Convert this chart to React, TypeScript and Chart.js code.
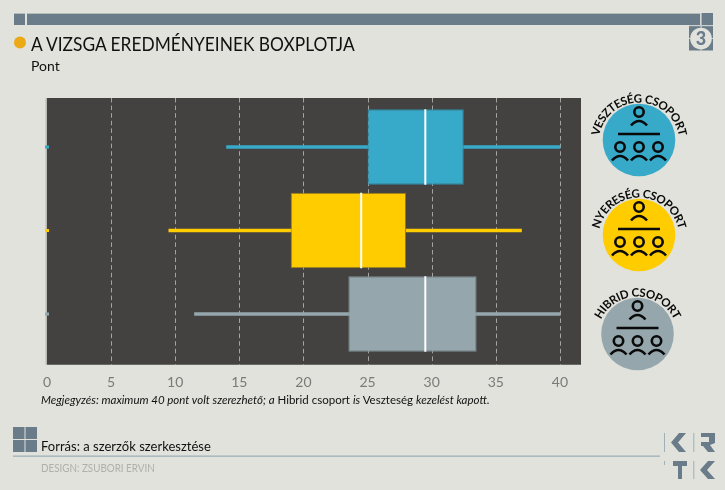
import React, { useEffect, useRef } from "react";
import { Chart, registerables } from "chart.js";

Chart.register(...registerables);

const groups = ["VESZTESÉG CSOPORT", "NYERESÉG CSOPORT", "HIBRID CSOPORT"];
const whiskerLow = [14, 9.5, 11.5];
const whiskerHigh = [40, 37, 40];
const boxLow = [25, 19, 23.5];
const boxHigh = [32.5, 28, 33.5];
const medians = [29.5, 24.5, 29.5];
const outliers = [0, 0, 0];
const colors = ["#37a9c9", "#ffcc00", "#95a7ad"];
const edgeColors = ["#2f8ba6", "#8f7a1e", "#7f8f94"];

const FONT = "Lato, 'Open Sans', sans-serif";
const SLATE = "#6a7b89";

const panelPlugin = {
  id: "panel",
  beforeDatasetsDraw: (chart: any) => {
    const { ctx, chartArea, scales } = chart;
    const top = chartArea.top - 7.25;
    const bottom = chartArea.bottom + 9;

    ctx.save();
    ctx.fillStyle = "#434240";
    ctx.fillRect(chartArea.left, top, chartArea.right - chartArea.left, bottom - top);
    ctx.fillStyle = "#b9b9b4";
    ctx.fillRect(chartArea.left - 1.5, top, 1.5, bottom - top);

    ctx.strokeStyle = "#a3a3a0";
    ctx.lineWidth = 1;
    ctx.setLineDash([4.5, 3.1]);
    scales.x.ticks.forEach((tick: any) => {
      if (tick.value === 0) return;
      const x = Math.round(scales.x.getPixelForValue(tick.value)) + 0.5;
      ctx.beginPath();
      ctx.moveTo(x, top);
      ctx.lineTo(x, bottom);
      ctx.stroke();
    });
    ctx.restore();
  },
};

const markPlugin = {
  id: "marks",
  afterDatasetsDraw: (chart: any) => {
    const { ctx, scales } = chart;
    ctx.save();
    groups.forEach((group, i) => {
      const y = scales.y.getPixelForValue(i);
      const half = 37.75;

      ctx.strokeStyle = "#ffffff";
      ctx.lineWidth = 2;
      const mx = scales.x.getPixelForValue(medians[i]);
      ctx.beginPath();
      ctx.moveTo(mx, y - half);
      ctx.lineTo(mx, y + half);
      ctx.stroke();

      ctx.fillStyle = colors[i];
      ctx.fillRect(scales.x.getPixelForValue(outliers[i]) - 2, y - 1.5, 4, 3);
    });
    ctx.restore();
  },
};

const Person = ({ x, y }: { x: number; y: number }) => (
  <g fill="none" stroke="#0a0a0a" strokeWidth={2.6}>
    <circle cx={x} cy={y} r={4.7} />
    <path d={`M${x - 8} ${y + 13.5} Q${x} ${y + 4.5} ${x + 8} ${y + 13.5}`} />
  </g>
);

const Badge = ({ cx, cy, color, label, id }: { cx: number; cy: number; color: string; label: string; id: string }) => (
  <g>
    <circle cx={cx} cy={cy} r={36.3} fill={color} />
    <path id={id} d={`M${cx - 40.5} ${cy + 3} A40.5 40.5 0 0 1 ${cx + 40.5} ${cy + 3}`} fill="none" />
    <text fontFamily={FONT} fontSize={11.5} fontWeight={700} fill="#0a0a0a" textAnchor="middle" letterSpacing={-0.35}>
      <textPath href={`#${id}`} startOffset="50%">
        {label}
      </textPath>
    </text>
    <Person x={cx} y={cy - 28} />
    <line x1={cx - 21} x2={cx + 21} y1={cy - 6} y2={cy - 6} stroke="#0a0a0a" strokeWidth={2.4} />
    <Person x={cx - 19} y={cy + 7} />
    <Person x={cx} y={cy + 7} />
    <Person x={cx + 19} y={cy + 7} />
  </g>
);

const textStyle = (left: number, top: number, size: number): React.CSSProperties => ({
  position: "absolute",
  left,
  top,
  fontFamily: FONT,
  fontSize: size,
  lineHeight: `${size + 4}px`,
  color: "#111111",
  whiteSpace: "nowrap",
  transformOrigin: "left top",
});

export default function App() {
  const canvasRef = useRef<HTMLCanvasElement>(null);

  useEffect(() => {
    document.body.style.margin = "0";
    if (!canvasRef.current) return;

    const chart = new Chart(canvasRef.current, {
      type: "bar",
      data: {
        labels: groups,
        datasets: [
          {
            label: "Doboz",
            data: boxLow.map((v, i) => [v, boxHigh[i]]),
            backgroundColor: colors,
            borderColor: edgeColors,
            borderWidth: 1,
            borderSkipped: false,
            grouped: false,
            categoryPercentage: 1,
            barPercentage: 0.904,
            order: 1,
          },
          {
            label: "Terjedelem",
            data: whiskerLow.map((v, i) => [v, whiskerHigh[i]]),
            backgroundColor: colors,
            grouped: false,
            barThickness: 3,
            order: 2,
          },
        ],
      } as any,
      options: {
        indexAxis: "y",
        responsive: false,
        animation: false,
        events: [],
        layout: { padding: { left: 47, right: 144, top: 105.25, bottom: 80 } },
        plugins: {
          legend: { display: false },
          tooltip: { enabled: false },
        },
        scales: {
          x: {
            min: 0,
            max: 41.64,
            grid: { display: false },
            border: { display: false },
            afterFit: (scale: any) => {
              scale.height = 54.25;
            },
            ticks: {
              stepSize: 5,
              includeBounds: false,
              maxRotation: 0,
              padding: 10,
              color: "#7a7a78",
              font: { family: FONT, size: 14 },
            },
          },
          y: { display: false },
        },
      } as any,
      plugins: [panelPlugin, markPlugin],
    });

    return () => chart.destroy();
  }, []);

  return (
    <div style={{ position: "relative", width: 725, height: 490, background: "#e1e2db", overflow: "hidden" }}>
      <canvas ref={canvasRef} width={725} height={490} style={{ position: "absolute", left: 0, top: 0 }} />

      <svg width={725} height={490} style={{ position: "absolute", left: 0, top: 0 }}>
        <rect x={14} y={13.5} width={686} height={11.5} fill={SLATE} />
        <rect x={14} y={13} width={686} height={1} fill="#b5bbb9" />
        <rect x={25} y={13} width={2} height={12} fill="#e1e2db" />

        <rect x={701} y={13} width={12} height={12} fill={SLATE} />
        <rect x={689} y={26} width={24} height={24.5} fill={SLATE} />
        <rect x={700.5} y={13} width={1.2} height={38} fill="#c9cdca" />
        <rect x={689} y={25.2} width={24} height={1} fill="#c9cdca" />
        <rect x={689} y={38} width={24} height={1} fill="#c9cdca" />
        <circle cx={701} cy={38.5} r={10.8} fill="#e1e2db" />
        <text x={701} y={44.5} textAnchor="middle" fontFamily={FONT} fontSize={18} fontWeight={900} fill={SLATE}>
          3
        </text>

        <circle cx={20} cy={42.5} r={6} fill="#eba915" />

        <Badge id="arc0" cx={639} cy={140} color={colors[0]} label={groups[0]} />
        <Badge id="arc1" cx={639} cy={235} color={colors[1]} label={groups[1]} />
        <Badge id="arc2" cx={637.5} cy={334} color={colors[2]} label={groups[2]} />

        <rect x={13} y={427} width={11.5} height={12} fill={SLATE} />
        <rect x={25.5} y={427} width={11.5} height={12} fill={SLATE} />
        <rect x={13} y={440} width={11.5} height={12} fill={SLATE} />
        <rect x={25.5} y={440} width={11.5} height={12} fill={SLATE} />
        <rect x={13} y={455.5} width={647} height={1.3} fill="#9fb0b8" />

        <rect x={664} y={433} width={1} height={19} fill="#9fb0b8" />
        <polygon points="686,433 679,433 671,442.5 679,452 686,452 678,442.5" fill={SLATE} />
        <rect x={693.3} y={433} width={1} height={19} fill="#9fb0b8" />
        <polygon
          points="701,433 715,433 715,443 710,445 715,452 708,452 703,446 701,446 701,442 709,442 709,437 701,437"
          fill={SLATE}
        />
        <rect x={664} y={461} width={1} height={4} fill="#9fb0b8" />
        <polygon points="673,461 687,461 687,466 682,466 682,479 678,479 678,466 673,466" fill={SLATE} />
        <rect x={693.3} y={461} width={1} height={18} fill="#9fb0b8" />
        <polygon points="715,461 708,461 700,470 708,479 715,479 707,470" fill={SLATE} />
      </svg>

      <div style={{ ...textStyle(31, 31, 20), transform: "scaleX(0.867)" }}>A VIZSGA EREDMÉNYEINEK BOXPLOTJA</div>
      <div style={textStyle(31, 57, 14)}>Pont</div>
      <div style={textStyle(41, 392, 11.5)}>
        <i>Megjegyzés: maximum 40 pont volt szerezhető; a</i> Hibrid csoport <i>is</i> Veszteség{" "}
        <i>kezelést kapott.</i>
      </div>
      <div style={{ ...textStyle(40.5, 437, 14), transform: "scaleX(0.93)" }}>Forrás: a szerzők szerkesztése</div>
      <div style={{ ...textStyle(41, 460, 12), color: "#b0b0ab", transform: "scaleX(0.82)" }}>DESIGN: ZSUBORI ERVIN</div>
    </div>
  );
}
